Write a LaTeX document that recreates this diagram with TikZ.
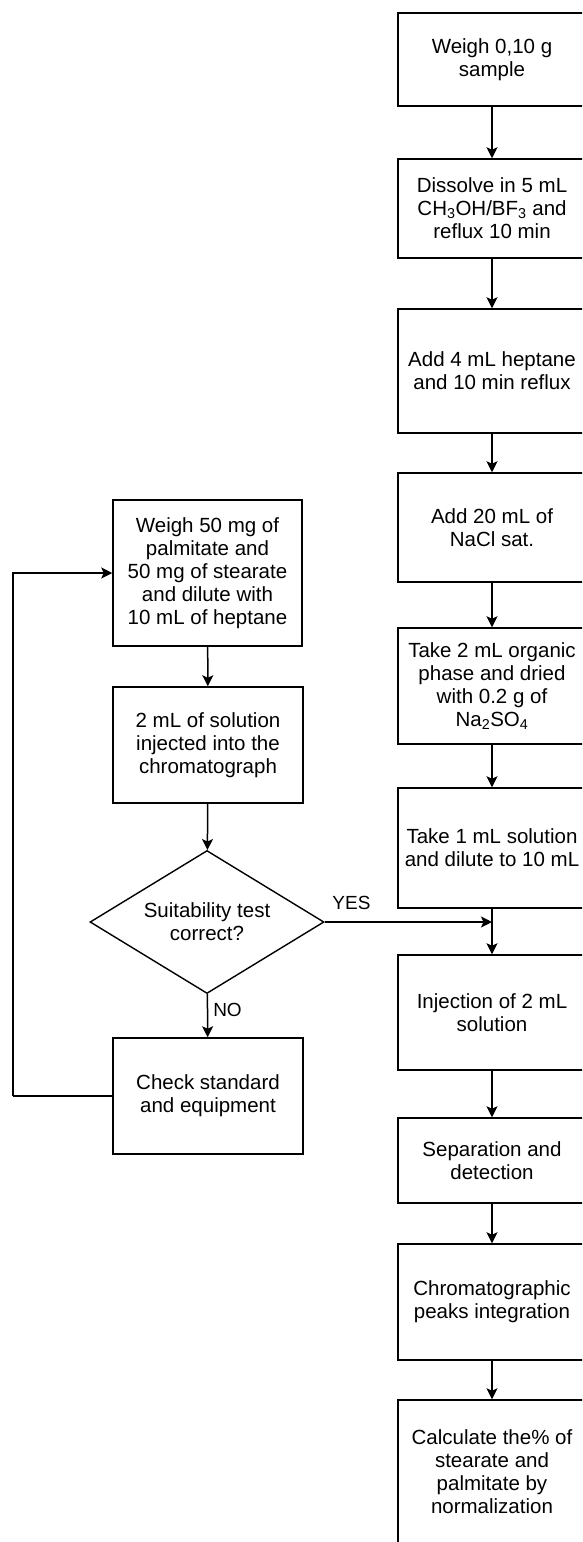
\documentclass[tikz,border=0pt]{standalone}
\usepackage{fontspec}
\setmainfont{Liberation Sans}
\usetikzlibrary{shapes.geometric,arrows.meta}

\tikzset{
  every node/.style={font=\fontsize{20.5}{23}\selectfont},
  stepbox/.style={draw, line width=1.5pt, align=center, inner sep=0pt,
    minimum width=#1},
  stepbox/.default=188pt,
  decision/.style={draw, diamond, line width=1.4pt, align=center, inner sep=0pt,
    minimum width=234pt, minimum height=143pt, aspect=1.64},
  flow/.style={line width=1.5pt, -{Stealth[length=11pt,width=11pt,inset=2.5pt]}},
  plain/.style={line width=1.5pt},
  tag/.style={font=\fontsize{19}{22}\selectfont, inner sep=0pt}
}

\begin{document}
\begin{tikzpicture}[x=1pt,y=-1pt]
  \useasboundingbox (0,0) rectangle (582,1542);
  \fill[white] (0,0) rectangle (582,1542);
  \clip (0,0) rectangle (582,1542);

  % main sample preparation and analysis column
  \node[stepbox, minimum height=93pt]  (s1)  at (492,59.5)  {Weigh 0,10 g\\sample};
  \node[stepbox, minimum height=99pt]  (s2)  at (492,208.5) {Dissolve in 5 mL\\CH\textsubscript{3}OH/BF\textsubscript{3} and\\reflux 10 min};
  \node[stepbox, minimum height=124pt] (s3)  at (492,371)   {Add 4 mL heptane\\and 10 min reflux};
  \node[stepbox, minimum height=109pt] (s4)  at (492,527.5) {Add 20 mL of\\NaCl sat.};
  \node[stepbox, minimum height=116pt] (s5)  at (492,686)   {Take 2 mL organic\\phase and dried\\with 0.2 g of\\Na\textsubscript{2}SO\textsubscript{4}};
  \node[stepbox, minimum height=120pt] (s6)  at (492,848)   {Take 1 mL solution\\and dilute to 10 mL};
  \node[stepbox, minimum height=115pt] (s7)  at (492,1012.5){Injection of 2 mL\\solution};
  \node[stepbox, minimum height=85pt]  (s8)  at (492,1160.5){Separation and\\detection};
  \node[stepbox, minimum height=116pt] (s9)  at (492,1302)  {Chromatographic\\peaks integration};
  \node[stepbox, minimum height=144pt] (s10) at (492,1472)  {Calculate the\% of\\stearate and\\palmitate by\\normalization};

  % system suitability column
  \node[stepbox=189pt, minimum height=146pt] (a) at (207.5,573) {Weigh 50 mg of\\palmitate and\\50 mg of stearate\\and dilute with\\10 mL of heptane};
  \node[stepbox=190pt, minimum height=116pt] (b) at (208,745)   {2 mL of solution\\injected into the\\chromatograph};
  \node[decision] (d) at (207,922) {Suitability test\\correct?};
  \node[stepbox=190pt, minimum height=116pt] (c) at (208,1096)  {Check standard\\and equipment};

  % connectors of the main column
  \draw[flow] (s1) -- (s2);
  \draw[flow] (s2) -- (s3);
  \draw[flow] (s3) -- (s4);
  \draw[flow] (s4) -- (s5);
  \draw[flow] (s5) -- (s6);
  \draw[flow] (s6) -- (s7);
  \draw[flow] (s7) -- (s8);
  \draw[flow] (s8) -- (s9);
  \draw[flow] (s9) -- (s10);

  % connectors of the suitability column
  \draw[flow] (a) -- (b);
  \draw[flow] (b) -- (d);
  \draw[flow] (d) -- node[tag, pos=0.38, right=5pt] {NO} (c);
  \draw[flow] (d.east) -- node[tag, pos=0.16, above=12pt] {YES} (d.east -| s6.south);

  % loop back when the test fails
  \coordinate (back) at (13,1096);
  \draw[plain] (c.west) -- (c.west -| back);
  \draw[flow] (c.west -| back) |- (a.west);
\end{tikzpicture}
\end{document}
